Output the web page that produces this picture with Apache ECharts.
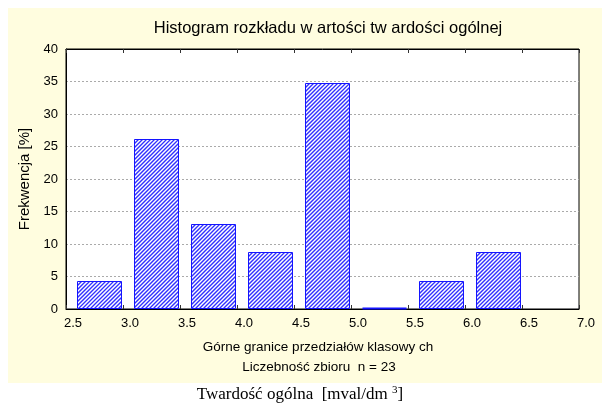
<!DOCTYPE html>
<html><head><meta charset="utf-8">
<script src="https://cdn.jsdelivr.net/npm/echarts@6/dist/echarts.min.js"></script>
<style>html,body{margin:0;padding:0;background:#fff;}#c{width:602px;height:405px;}</style>
</head><body><div id="c"></div>
<script>
const binStarts = [2.5, 3.0, 3.5, 4.0, 4.5, 5.0, 5.5, 6.0];
const binEnds   = [3.0, 3.5, 4.0, 4.5, 5.0, 5.5, 6.0, 6.5];
const percents  = [4.35, 26.09, 13.04, 8.70, 34.78, 0, 4.35, 8.70];
const xTicks = [2.5, 3.0, 3.5, 4.0, 4.5, 5.0, 5.5, 6.0, 6.5, 7.0];
const yTicks = [0, 5, 10, 15, 20, 25, 30, 35, 40];
const titleText = 'Histogram rozkładu w artości tw ardości ogólnej';
const xName1 = 'Górne granice przedziałów klasowy ch';
const xName2 = 'Liczebność zbioru  n = 23';
const yName = 'Frekwencja [%]';

const data = binStarts.map((s, i) => [s, binEnds[i], percents[i]]);

const chart = echarts.init(document.getElementById('c'), null, {renderer: 'canvas'});
const font = 'Liberation Sans, Arial, sans-serif';
const BLUE = '#1414ff';
chart.setOption({
  animation: false,
  textStyle: {fontFamily: font},
  graphic: [
    {type: 'rect', z: -10, shape: {x: 8, y: 8, width: 594, height: 375}, style: {fill: '#fffddf'}},
    {type: 'text', style: {text: titleText, x: 328, y: 28, align: 'center', verticalAlign: 'middle', font: '16.5px ' + font, fill: '#000'}},
    {type: 'text', style: {text: xName1, x: 318, y: 347, align: 'center', verticalAlign: 'middle', font: '13.5px ' + font, fill: '#000'}},
    {type: 'text', style: {text: xName2, x: 319, y: 367, align: 'center', verticalAlign: 'middle', font: '13.5px ' + font, fill: '#000'}},
    {type: 'text', style: {
      text: 'Twardość ogólna  [mval/dm {s|3}]', x: 300, y: 395, align: 'center', verticalAlign: 'middle',
      font: '17px "Liberation Serif", "Times New Roman", serif', fill: '#000',
      rich: {s: {fontSize: 11, fontFamily: '"Liberation Serif", serif', verticalAlign: 'top', padding: [0,0,9,0]}}
    }}
  ],
  grid: {left: 66, top: 49, right: 23, bottom: 96, show: true, backgroundColor: '#fff', borderColor: '#000', borderWidth: 1},
  xAxis: [{
    type: 'value', min: xTicks[0], max: xTicks[xTicks.length-1], interval: 0.5,
    axisLine: {show: true, lineStyle: {color: '#000'}},
    axisTick: {show: true, inside: true, length: 4, lineStyle: {color: '#333'}},
    splitLine: {show: false},
    axisLabel: {color: '#000', fontSize: 13, margin: 8, padding: [0,0,0,14], formatter: v => v.toFixed(1)}
  }, {
    type: 'value', position: 'top', min: xTicks[0], max: xTicks[xTicks.length-1], interval: 0.5,
    axisLine: {show: true, lineStyle: {color: '#000'}},
    axisTick: {show: true, inside: true, length: 4, lineStyle: {color: '#333'}},
    splitLine: {show: false}, axisLabel: {show: false}
  }],
  yAxis: {
    type: 'value', min: yTicks[0], max: yTicks[yTicks.length-1], interval: 5,
    name: yName, nameLocation: 'middle', nameGap: 34, nameRotate: 90,
    nameTextStyle: {color: '#000', fontSize: 15},
    axisLine: {show: true, lineStyle: {color: '#000'}},
    axisTick: {show: false},
    splitLine: {show: true, lineStyle: {color: '#aaa', type: [2, 2]}},
    axisLabel: {color: '#000', fontSize: 13, margin: 8}
  },
  series: [{
    type: 'custom', xAxisIndex: 0,
    data: data,
    encode: {x: [0, 1], y: 2},
    renderItem: function (params, api) {
      const p0 = api.coord([api.value(0), 0]);
      const p1 = api.coord([api.value(1), api.value(2)]);
      const left = Math.round(p0[0] + 10.7) + 0.5;
      const right = Math.round(p1[0] - 2.4) + 0.5;
      const top = Math.round(p1[1]) + 0.5;
      const bottom = Math.round(p0[1]) - 0.5;
      const h = bottom - top;
      if (h < 1) {
        return {type: 'line', shape: {x1: left, y1: bottom, x2: right, y2: bottom},
          style: {stroke: BLUE, lineWidth: 2}};
      }
      const shape = {x: left, y: top, width: right - left, height: h};
      const lines = [];
      for (let k = left - h - 4; k < right + 4; k += 4) {
        lines.push({type: 'line', shape: {x1: k, y1: bottom, x2: k + h, y2: top},
          style: {stroke: '#3030ff', lineWidth: 1.3}, silent: true});
      }
      return {type: 'group', children: [
        {type: 'rect', shape: shape, style: {fill: '#fff'}},
        {type: 'group', clipPath: {type: 'rect', shape: shape}, children: lines},
        {type: 'rect', shape: shape, style: {fill: null, stroke: BLUE, lineWidth: 1}}
      ]};
    }
  }]
});
</script></body></html>
